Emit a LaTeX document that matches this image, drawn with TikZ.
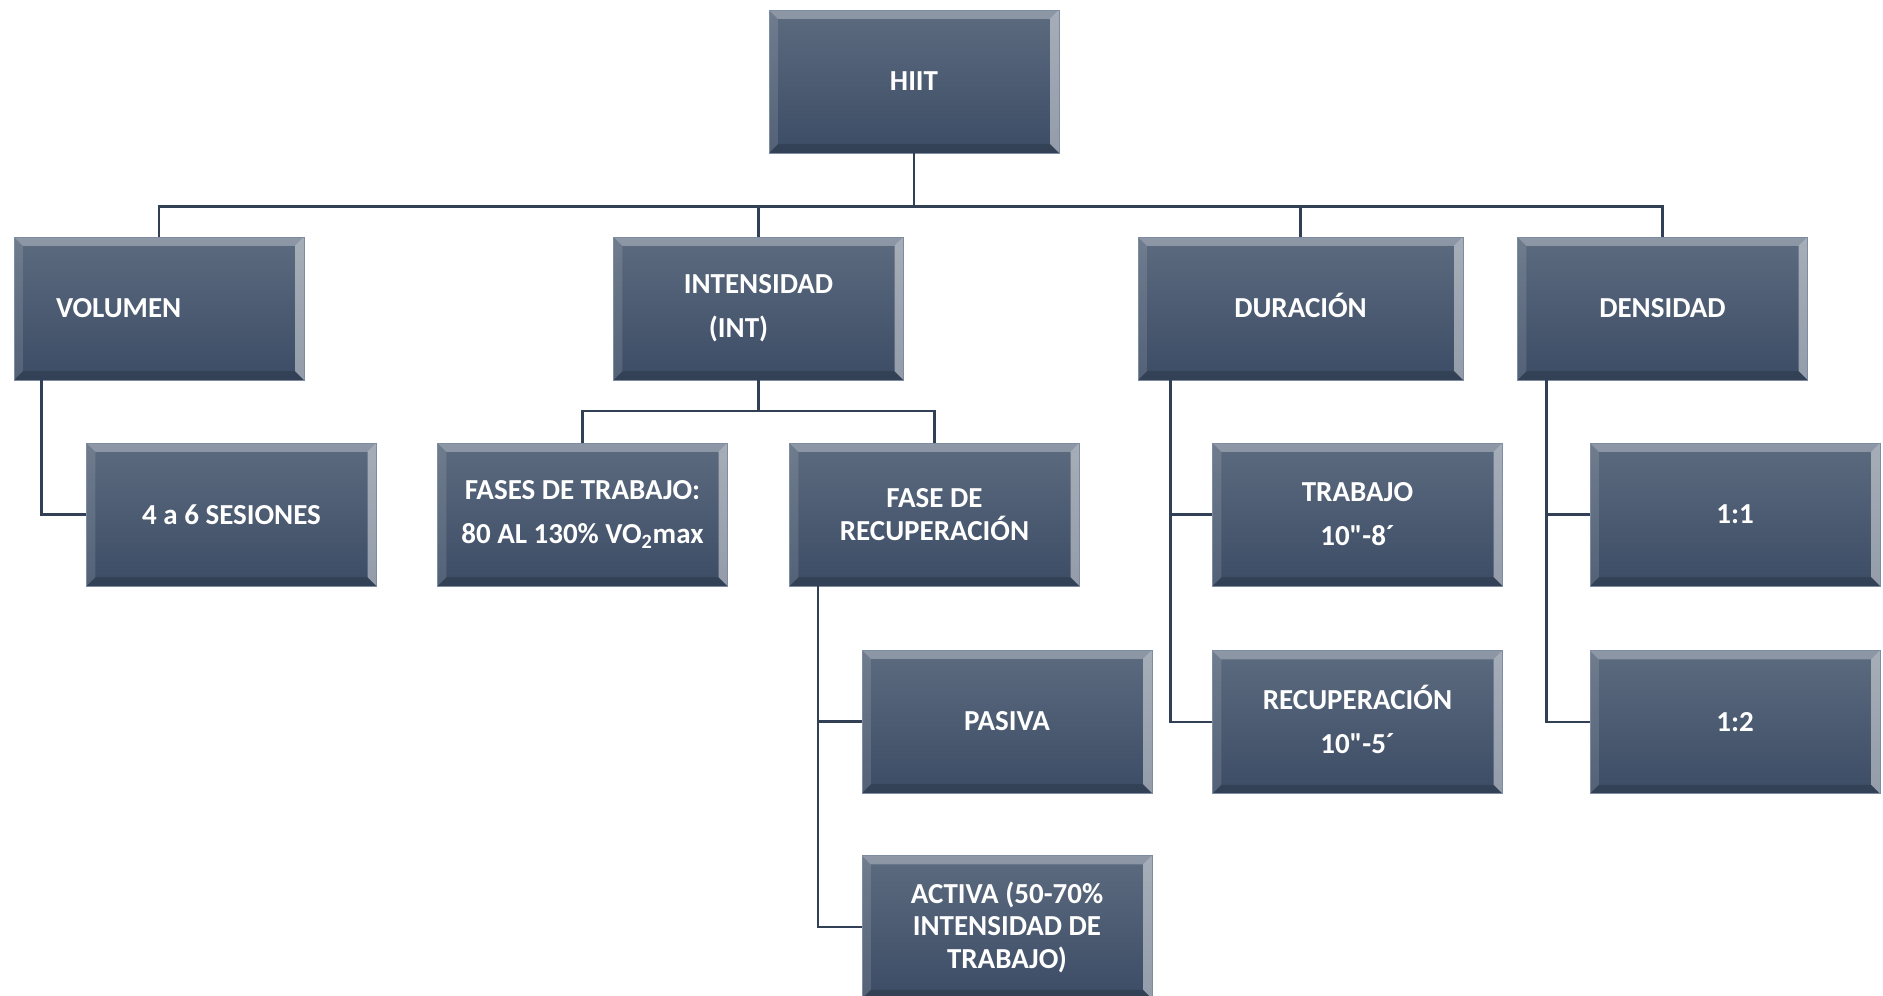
\documentclass[tikz,border=0pt]{standalone}
\usepackage{fontspec}
\setmainfont{Carlito}[Ligatures=TeXOff]
\usetikzlibrary{positioning}

\definecolor{boxtop}{RGB}{92,107,127}
\definecolor{boxbot}{RGB}{60,76,101}
\definecolor{boxrim}{RGB}{125,140,160}
\definecolor{linkcol}{RGB}{50,64,86}
\def\ppb{path picture bounding box}

\begin{document}
\begin{tikzpicture}[x=0.02cm,y=-0.02cm,
font=\fontsize{16.5}{18.4}\selectfont\bfseries]
\tikzstyle{box}=[rectangle,draw=boxrim,thin,top color=boxtop,bottom color=boxbot,text=white,
  align=center,minimum width=5.8cm,minimum height=2.86cm,inner sep=0pt,
  path picture={
    \fill[white,opacity=.30] (\ppb.north west) -- (\ppb.north east) -- ([shift={(-5pt,-5pt)}]\ppb.north east) -- ([shift={(5pt,-5pt)}]\ppb.north west) -- cycle;
    \fill[white,opacity=.45] (\ppb.north east) -- (\ppb.south east) -- ([shift={(-5pt,5pt)}]\ppb.south east) -- ([shift={(-5pt,-5pt)}]\ppb.north east) -- cycle;
    \fill[white,opacity=.12] (\ppb.north west) -- ([shift={(5pt,-5pt)}]\ppb.north west) -- ([shift={(5pt,5pt)}]\ppb.south west) -- (\ppb.south west) -- cycle;
    \fill[black,opacity=.15] (\ppb.south west) -- (\ppb.south east) -- ([shift={(-5pt,5pt)}]\ppb.south east) -- ([shift={(5pt,5pt)}]\ppb.south west) -- cycle;
  }]
\tikzstyle{link}=[draw=linkcol,line width=1.5pt]

\useasboundingbox (0,0) rectangle (1883,996);

% top and first level
\node[box]                  (hiit)       at (914,81.5)    {HIIT};
\node[box,text width=4.12cm,align=left] (volumen) at (159,308.5) {VOLUMEN};
\node[box]                  (intensidad) at (758.5,308.5) {INTENSIDAD\\[6.6pt](INT)\hspace*{0.8cm}};
\node[box,minimum width=6.5cm] (duracion) at (1300.5,308.5) {DURACI\smash{Ó}N};
\node[box]                  (densidad)   at (1662.5,308.5) {DENSIDAD};

% second level
\node[box]                  (sesiones)   at (231.5,514.5) {4 a 6 SESIONES};
\node[box]                  (fases)      at (582.5,514.5) {FASES DE TRABAJO:\\[6.6pt]80 AL 130\% VO\textsubscript{2}max};
\node[box]                  (faserec)    at (934.5,514.5) {FASE DE\\RECUPERACIÓN};
\node[box]                  (trabajo)    at (1357.5,514.5) {TRABAJO\\[6.6pt]10"-8´};
\node[box]                  (unouno)     at (1735,514.5)  {1:1};

% third level
\node[box]                  (pasiva)     at (1007,721.5)  {PASIVA};
\node[box]                  (recup)   [below=1.28cm of trabajo] {RECUPERACI\smash{Ó}N\\[6.6pt]10"-5´};
\node[box]                  (unodos)  [below=1.28cm of unouno]  {1:2};
\node[box]                  (activa)  [below=1.24cm of pasiva]  {ACTIVA (50-70\%\\INTENSIDAD DE\\TRABAJO)};

\coordinate (bus)    at (0,206.5);
\coordinate (subbus) at (0,411);

\draw[link] (hiit.south) -- (hiit |- bus);
\draw[link] (volumen.north) |- (hiit |- bus) -| (densidad.north);
\draw[link] (intensidad.north) -- (intensidad |- bus);
\draw[link] (duracion.north) -- (duracion |- bus);

\draw[link] (intensidad.south) -- (intensidad |- subbus);
\draw[link] (fases.north) |- (intensidad |- subbus) -| (faserec.north);

\draw[link] ([xshift=0.56cm]volumen.south west) |- (sesiones.west);

\coordinate (r) at ([xshift=0.58cm]faserec.south west);
\draw[link] (r) |- (activa.west);
\draw[link] (r |- pasiva.west) -- (pasiva.west);

\coordinate (d) at ([xshift=0.66cm]duracion.south west);
\draw[link] (d) |- (recup.west);
\draw[link] (d |- trabajo.west) -- (trabajo.west);

\coordinate (s) at ([xshift=0.59cm]densidad.south west);
\draw[link] (s) |- (unodos.west);
\draw[link] (s |- unouno.west) -- (unouno.west);
\end{tikzpicture}
\end{document}
